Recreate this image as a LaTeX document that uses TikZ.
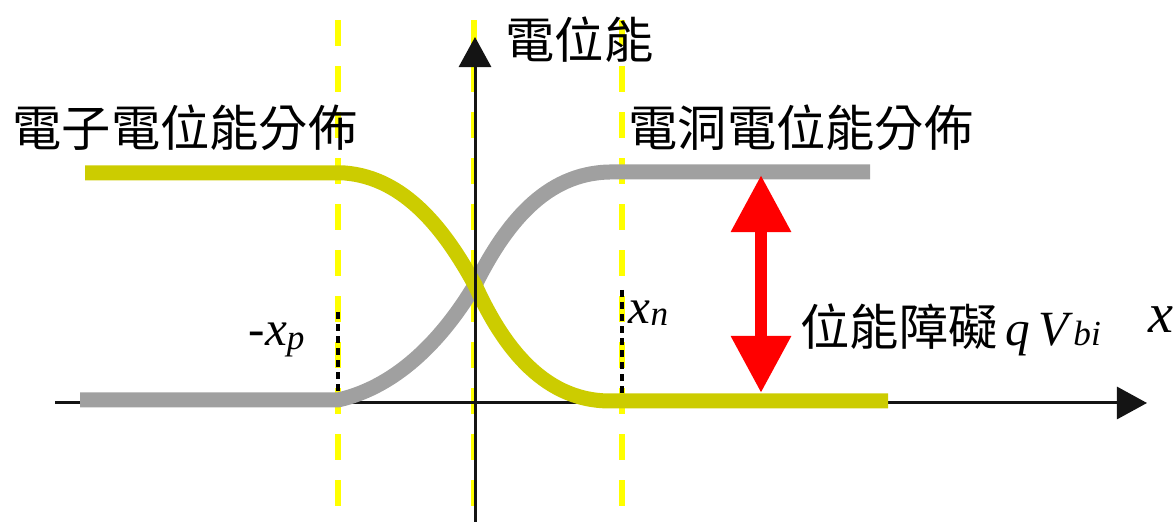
\documentclass[tikz,border=0pt]{standalone}
\usepackage{fontspec}
\setmainfont{Liberation Serif}
\newfontfamily\cjk{Noto Sans CJK TC}
\usetikzlibrary{arrows.meta}
\definecolor{guideyellow}{RGB}{255,255,0}
\definecolor{elecyellow}{RGB}{204,204,0}
\definecolor{holegray}{RGB}{160,160,160}
\definecolor{axisblack}{RGB}{20,20,20}
\begin{document}
\begin{tikzpicture}[x=0.01cm,y=-0.01cm,
  guide/.style={draw=guideyellow,line width=0.055cm,dash pattern=on 0.26cm off 0.20cm},
  blackdash/.style={draw=black,line width=0.035cm,dash pattern=on 0.07cm off 0.05cm},
  axisline/.style={draw=axisblack,line width=0.03cm,-{Triangle[length=0.30cm,width=0.32cm]}},
  curve/.style={line width=0.15cm,line join=round},
  cjklabel/.style={inner sep=0pt,anchor=west,font=\cjk\fontsize{14pt}{16pt}\selectfont},
  mathlabel/.style={inner sep=0pt,anchor=west,font=\rmfamily\fontsize{14pt}{16pt}\selectfont},
  barrier/.style={draw=red,line width=0.125cm,{Triangle[length=0.57cm,width=0.57cm]}-{Triangle[length=0.57cm,width=0.57cm]}}]
\useasboundingbox (0,0) rectangle (1175,522);
% guide lines
\coordinate (g1t) at (338,-26); \coordinate (g1b) at (338,540);
\coordinate (g2t) at (474,-26); \coordinate (g2b) at (474,540);
\coordinate (g3t) at (622,-26); \coordinate (g3b) at (622,540);
\draw[guide] (g1t) -- (g1b);
\draw[guide] (g2t) -- (g2b);
\draw[guide] (g3t) -- (g3b);
% x axis
\coordinate (xs) at (55,403); \coordinate (xe) at (1147,403);
\draw[axisline] (xs) -- (xe);
% hole curve (gray)
\draw[curve,draw=holegray] (80,400) -- (338,400) .. controls (400,386) and (445,335) .. (475,285)
  .. controls (505,225) and (545,173) .. (610,172) -- (870,172);
% electron curve (yellow)
\draw[curve,draw=elecyellow] (85,173) -- (345,173) .. controls (405,178) and (445,230) .. (475,285)
  .. controls (500,340) and (540,401) .. (610,401) -- (888,401);
% black dashes at -xp and xn
\coordinate (d1t) at (338,312); \coordinate (d1b) at (338,395);
\coordinate (d2t) at (622,290); \coordinate (d2b) at (622,395);
\draw[blackdash] (d1t) -- (d1b);
\draw[blackdash] (d2t) -- (d2b);
% y axis
\coordinate (ys) at (475,522); \coordinate (ye) at (475,37);
\draw[axisline] (ys) -- (ye);
% barrier arrow
\coordinate (rtop) at (761,175); \coordinate (rbot) at (761,393);
\draw[barrier] (rtop) -- (rbot);
% labels
\node[cjklabel] (ylab) at (505,40) {電位能};
\node[cjklabel] (elab) at (12,128) {電子電位能分佈};
\node[cjklabel] (hlab) at (628,128) {電洞電位能分佈};
\node[mathlabel] (blab) at (800,330) {{\cjk 位能障礙}\,\textit{q\,V}{\fontsize{10pt}{10pt}\selectfont\textit{bi}}};
\node[mathlabel] (xp) at (248,340) {-\textit{x}{\fontsize{10pt}{10pt}\selectfont\raisebox{-0.25ex}{\textit{p}}}};
\node[mathlabel] (xn) at (628,313) {\textit{x}{\fontsize{10pt}{10pt}\selectfont\raisebox{-0.15ex}{\textit{n}}}};
\node[mathlabel,font=\rmfamily\fontsize{16pt}{18pt}\selectfont] (xlab) at (1148,320) {\textit{x}};
\end{tikzpicture}
\end{document}
